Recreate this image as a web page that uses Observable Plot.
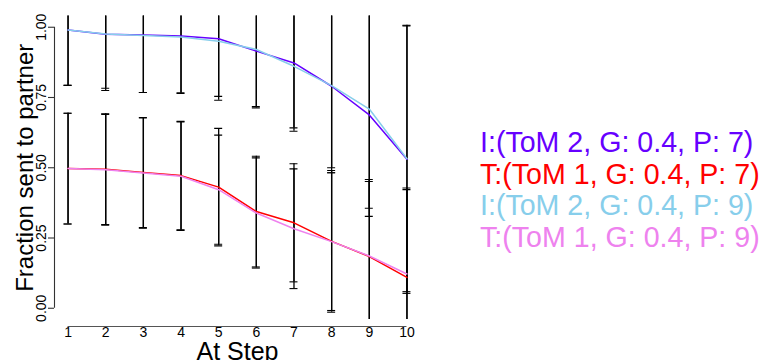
<!DOCTYPE html>
<html>
<head>
<meta charset="utf-8">
<script src="https://cdn.jsdelivr.net/npm/d3@7"></script>
<script src="https://cdn.jsdelivr.net/npm/@observablehq/plot@0.6"></script>
<style>
  body { margin: 0; background: #fff; font-family: "Liberation Sans", Arial, sans-serif; }
  #wrap { position: relative; width: 768px; height: 360px; }
  #legend { position: absolute; left: 480px; top: 127px; font-size: 28.6px; line-height: 31.7px; white-space: nowrap; }
</style>
</head>
<body>
<div id="wrap"><div id="legend"></div></div>
<script>
// Data
const steps = [1, 2, 3, 4, 5, 6, 7, 8, 9, 10];
const yTicks = [0, 0.25, 0.5, 0.75, 1];
const seriesLabels = ["I:(ToM 2, G: 0.4, P: 7)", "T:(ToM 1, G: 0.4, P: 7)", "I:(ToM 2, G: 0.4, P: 9)", "T:(ToM 1, G: 0.4, P: 9)"];
const seriesColors = ["#6600ff", "#ff0000", "#87ceeb", "#ee82ee"];

const meanI7 = [0.990, 0.975, 0.972, 0.969, 0.959, 0.915, 0.873, 0.790, 0.688, 0.530];
const sdI7   = [0.197, 0.200, 0.204, 0.205, 0.219, 0.202, 0.243, 0.308, 0.361, 0.477];
const meanT7 = [0.497, 0.495, 0.483, 0.472, 0.431, 0.344, 0.304, 0.238, 0.184, 0.110];
const sdT7   = [0.197, 0.197, 0.196, 0.193, 0.209, 0.197, 0.210, 0.252, 0.274, 0.318];
const meanI9 = [0.990, 0.976, 0.971, 0.965, 0.950, 0.921, 0.861, 0.792, 0.709, 0.532];
const sdI9   = [0.197, 0.193, 0.203, 0.198, 0.196, 0.203, 0.219, 0.292, 0.353, 0.473];
const meanT9 = [0.497, 0.493, 0.481, 0.470, 0.422, 0.339, 0.283, 0.237, 0.186, 0.122];
const sdT9   = [0.197, 0.197, 0.196, 0.193, 0.194, 0.196, 0.213, 0.245, 0.265, 0.300];

const means = [meanI7, meanT7, meanI9, meanT9];
const sds = [sdI7, sdT7, sdI9, sdT9];

const rows = [];
means.forEach((m, s) => steps.forEach((st, i) => rows.push({
  series: seriesLabels[s], step: st, mean: m[i], lo: m[i] - sds[s][i], hi: m[i] + sds[s][i]
})));

// R-style 4% axis expansion
const xExt = d3.extent(steps), yExt = d3.extent(yTicks);
const xPad = (xExt[1] - xExt[0]) * 0.04, yPad = (yExt[1] - yExt[0]) * 0.04;
const xDomain = [xExt[0] - xPad, xExt[1] + xPad];
const yDomain = [yExt[0] - yPad, yExt[1] + yPad];

const font = "Liberation Sans, Arial, sans-serif";

const chart = Plot.plot({
  width: 768,
  height: 360,
  marginLeft: 54,
  marginRight: 348,
  marginTop: 15.5,
  marginBottom: 41,
  style: { fontFamily: font, background: "white" },
  x: { domain: xDomain, axis: null },
  y: { domain: yDomain, axis: null },
  color: { domain: seriesLabels, range: seriesColors },
  marks: [
    // error bars
    Plot.ruleX(rows, { x: "step", y1: "lo", y2: "hi", stroke: "black", strokeWidth: 1.3, clip: true }),
    Plot.ruleY(rows, { y: "lo", x1: "step", x2: "step", insetLeft: -4, insetRight: -4, stroke: "black", strokeWidth: 1.1, clip: true }),
    Plot.ruleY(rows, { y: "hi", x1: "step", x2: "step", insetLeft: -4, insetRight: -4, stroke: "black", strokeWidth: 1.1, clip: true }),
    // lines
    Plot.line(rows, { x: "step", y: "mean", z: "series", stroke: "series", strokeWidth: 1.5, clip: true }),
    // y axis
    Plot.ruleX([xDomain[0]], { x: d => d, y1: yExt[0], y2: yExt[1], stroke: "#333", strokeWidth: 1.1 }),
    Plot.ruleY(yTicks, { y: d => d, x1: xDomain[0], x2: xDomain[0], insetLeft: -6, stroke: "#333", strokeWidth: 1.1 }),
    Plot.text(yTicks, { y: d => d, text: d => d3.format(".2f")(d), frameAnchor: "left", dx: -9, rotate: -90, textAnchor: "middle", lineAnchor: "bottom", fontSize: 14, fill: "black" }),
    Plot.text(["Fraction sent to partner"], { frameAnchor: "left", dx: -22, rotate: -90, textAnchor: "middle", lineAnchor: "bottom", fontSize: 24, fill: "black" }),
    // x axis
    Plot.ruleY([yDomain[0]], { y: d => d, x1: xExt[0], x2: xExt[1], dy: 7, stroke: "#555", strokeWidth: 1.1 }),
    Plot.text(steps, { x: d => d, text: d => String(d), frameAnchor: "bottom", dy: 8, lineAnchor: "top", fontSize: 14, fill: "black" }),
    Plot.text(["At Step"], { frameAnchor: "bottom", dy: 40, lineAnchor: "bottom", fontSize: 25, fill: "black" })
  ]
});

const wrap = document.getElementById("wrap");
wrap.insertBefore(chart, wrap.firstChild);

const legend = document.getElementById("legend");
seriesLabels.forEach((l, i) => {
  const d = document.createElement("div");
  d.textContent = l;
  d.style.color = seriesColors[i];
  legend.appendChild(d);
});
</script>
</body>
</html>
